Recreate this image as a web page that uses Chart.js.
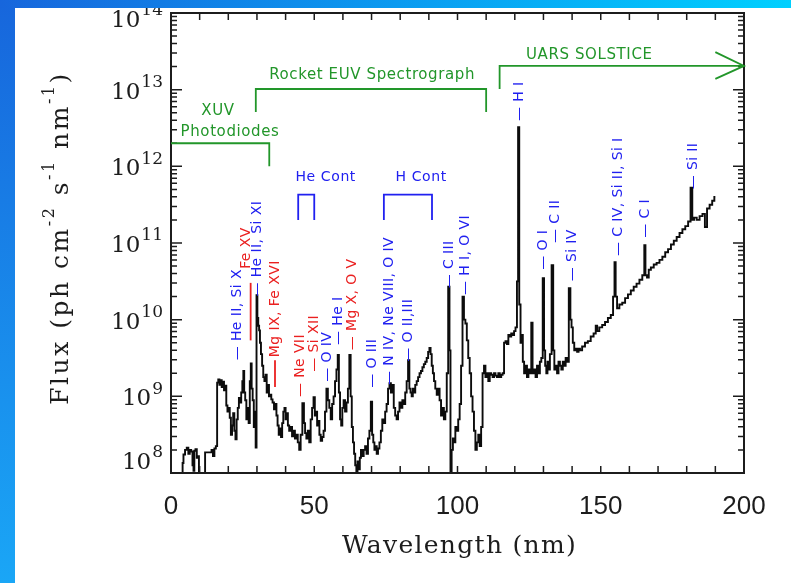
<!DOCTYPE html>
<html>
<head>
<meta charset="utf-8">
<script src="https://cdn.jsdelivr.net/npm/chart.js@4.4.0/dist/chart.umd.min.js"></script>
<style>
  html, body { margin: 0; padding: 0; }
  body { width: 791px; height: 583px; overflow: hidden; position: relative;
         background: linear-gradient(180deg, #1766dc 0%, #1aa6f6 100%); }
  #sheet { position: absolute; left: 15px; top: 0; right: 0; bottom: 0; background: #fff; }
  #chart { position: absolute; left: 0; top: 0; z-index: 1; }
  #topband { position: absolute; left: 0; top: 0; width: 791px; height: 8px; z-index: 2;
             background: linear-gradient(90deg, #1766dc 0%, #0b9af0 50%, #00d0ff 100%); }
</style>
</head>
<body>
<div id="sheet"></div>
<canvas id="chart" width="791" height="583"></canvas>
<div id="topband"></div>
<script>
// solar spectrum (nm, ph cm-2 s-1 nm-1)
const wavelength = [
  4.0, 4.1, 4.6, 5.2, 5.8, 6.3, 6.8, 7.3, 7.7, 8.0, 8.3, 8.8, 9.2, 9.6, 9.9,
  13.9, 14.4, 14.9, 15.4, 15.9, 16.3, 16.7, 17.1, 17.5, 17.9, 18.3, 18.7, 19.1, 19.5, 19.9,
  20.3, 20.7, 21.1, 21.5, 21.9, 22.3, 22.7, 23.1, 23.5, 23.9, 24.3, 24.7, 25.1, 25.4, 25.7,
  26.1, 26.5, 26.9, 27.3, 27.7, 28.0, 28.3, 28.7, 29.1, 29.4, 29.7, 30.0, 30.3, 30.6, 30.9,
  31.2, 31.6, 32.0, 32.4, 32.8, 33.2, 33.6, 34.0, 34.4, 34.8, 35.2, 35.7, 36.2, 36.6, 37.0,
  37.4, 37.8, 38.2, 38.6, 39.0, 39.4, 39.8, 40.2, 40.6, 41.0, 41.5, 42.0, 42.5, 43.0, 43.5,
  44.0, 44.5, 45.0, 45.5, 46.2, 46.6, 47.0, 47.5, 48.0, 48.5, 49.0, 49.5, 50.0, 50.4, 50.8,
  51.2, 51.6, 52.0, 52.5, 53.0, 53.5, 54.0, 54.5, 55.0, 55.5, 56.0, 56.5, 57.0, 57.5, 58.0,
  58.4, 58.8, 59.2, 59.6, 60.0, 60.5, 61.0, 61.5, 62.0, 62.5, 62.9, 63.3, 63.7, 64.1, 64.5,
  64.9, 65.3, 65.7, 66.1, 66.5, 67.0, 67.5, 68.0, 68.5, 69.0, 69.5, 70.0, 70.4, 70.8, 71.2,
  71.6, 72.0, 72.5, 73.0, 73.5, 74.0, 74.5, 75.0, 75.5, 76.0, 76.5, 77.0, 77.5, 78.0, 78.5,
  79.0, 79.5, 80.0, 80.5, 81.0, 81.5, 82.0, 82.5, 83.0, 83.4, 83.8, 84.2, 84.6, 85.0, 85.5,
  86.0, 86.5, 87.0, 87.5, 88.0, 88.5, 89.0, 89.5, 90.0, 90.4, 90.8, 91.2, 91.6, 92.0, 92.5,
  93.0, 93.5, 94.0, 94.5, 95.0, 95.5, 96.0, 96.5, 97.0, 97.4, 97.7, 98.2, 98.6, 99.0, 99.5,
  100.0, 100.5, 101.0, 101.5, 102.0, 102.5, 103.0, 103.5, 104.0, 104.5, 105.0, 105.5, 106.0, 106.5, 107.0,
  107.5, 108.0, 108.5, 109.0, 109.5, 110.0, 110.5, 111.0, 111.5, 112.0, 112.5, 113.0, 113.5, 114.0, 114.5,
  115.0, 115.5, 116.0, 116.5, 117.0, 117.5, 118.0, 118.5, 119.0, 119.5, 120.0, 120.5, 121.0, 121.3, 121.8,
  122.2, 122.6, 123.0, 123.5, 124.0, 124.5, 125.0, 125.5, 126.0, 126.4, 127.0, 127.5, 128.0, 128.5, 129.0,
  129.5, 130.0, 130.4, 130.8, 131.2, 131.6, 132.0, 132.5, 133.2, 133.6, 134.0, 134.5, 135.0, 135.5, 136.0,
  136.5, 137.0, 137.5, 138.0, 138.5, 139.2, 139.6, 140.0, 140.5, 141.0, 141.5, 142.0, 142.5, 143.0, 144.0,
  145.0, 146.0, 147.0, 148.0, 148.5, 149.0, 150.0, 151.0, 152.0, 153.0, 154.0, 154.6, 155.0, 155.4, 156.0,
  157.0, 158.0, 159.0, 160.0, 161.0, 162.0, 163.0, 164.0, 165.0, 165.4, 165.8, 166.5, 167.0, 168.0, 169.0,
  170.0, 171.0, 172.0, 173.0, 174.0, 175.0, 176.0, 177.0, 178.0, 179.0, 180.0, 181.0, 181.7, 182.2, 183.0,
  184.0, 185.0, 186.0, 186.7, 187.5, 188.5, 189.3, 190.0
];
const flux = [
  3.2e7, 1.35e8, 1.74e8, 2.0e8, 2.14e8, 1.78e8, 2.0e8, 1.91e8, 1.26e8, 1.07e8, 1.95e8, 2.04e8, 1.58e8, 1.66e8, 3.2e7,
  1.86e8, 2.0e8, 1.66e8, 2.09e8, 2.24e8, 1.51e9, 1.66e9, 1.41e9, 1.62e9, 1.32e9, 1.55e9, 1.2e9, 1.38e9, 7.59e8, 6.31e8,
  7.08e8, 5.25e8, 3.16e8, 4.17e8, 6.03e8, 3.55e8, 2.75e8, 5.01e8, 7.08e8, 9.55e8, 8.32e8, 1.12e9, 1.58e9, 2.14e9, 1.12e9,
  8.91e8, 5.01e8, 7.08e8, 4.47e8, 1.58e9, 2.69e9, 1.26e9, 8.91e8, 3.98e8, 6.31e8, 2.14e8, 2.09e10, 1.05e10, 8.32e9, 7.24e9,
  5.01e9, 3.55e9, 2.51e9, 1.78e9, 1.58e9, 1.91e9, 1.12e9, 1.41e9, 1.0e9, 1.05e9, 9.12e8, 8.32e8, 6.76e8, 7.94e8, 5.62e8,
  4.17e8, 3.16e8, 3.8e8, 2.95e8, 4.47e8, 6.31e8, 7.08e8, 5.01e8, 6.03e8, 4.17e8, 3.55e8, 3.98e8, 3.02e8, 3.55e8, 2.82e8,
  3.16e8, 2.51e8, 2.0e8, 3.16e8, 8.13e8, 4.47e8, 3.31e8, 2.82e8, 3.55e8, 2.51e8, 5.01e8, 7.08e8, 9.77e8, 5.62e8, 6.31e8,
  4.17e8, 4.79e8, 3.16e8, 2.63e8, 2.95e8, 3.55e8, 6.31e8, 1.26e9, 8.91e8, 7.08e8, 5.01e8, 7.94e8, 1.0e9, 1.58e9, 2.24e9,
  3.47e9, 1.12e9, 5.01e8, 4.17e8, 7.08e8, 8.91e8, 6.31e8, 8.32e8, 1.26e9, 3.47e9, 1.0e9, 3.98e8, 2.51e8, 1.78e8, 1.26e8,
  8.9e7, 1.41e8, 1.12e8, 1.58e8, 2.0e8, 1.66e8, 2.0e8, 2.24e8, 1.78e8, 2.82e8, 3.55e8, 8.51e8, 3.16e8, 2.51e8, 2.0e8,
  2.24e8, 1.78e8, 2.09e8, 2.51e8, 3.55e8, 5.01e8, 4.47e8, 6.31e8, 7.94e8, 1.26e9, 1.48e9, 1.12e9, 1.41e9, 7.08e8, 5.62e8,
  5.01e8, 6.31e8, 8.32e8, 7.08e8, 8.91e8, 7.94e8, 1.12e9, 1.58e9, 2.95e9, 1.26e9, 1.12e9, 1.0e9, 1.26e9, 1.12e9, 1.41e9,
  1.58e9, 1.78e9, 2.0e9, 2.14e9, 2.4e9, 2.63e9, 2.82e9, 3.16e9, 3.8e9, 4.27e9, 3.55e9, 2.51e9, 2.0e9, 1.58e9, 1.26e9,
  1.05e9, 1.26e9, 8.91e8, 5.62e8, 7.08e8, 5.01e8, 6.31e8, 2.0e9, 2.69e10, 3.98e9, 7.9e7, 2.0e8, 2.82e8, 2.51e8, 3.98e8,
  3.55e8, 5.01e8, 7.94e8, 2.51e9, 2.0e10, 1.0e10, 8.91e9, 5.37e9, 3.16e9, 2.0e9, 1.0e9, 6.31e8, 3.55e8, 2.0e8, 2.51e8,
  3.16e8, 2.24e8, 3.98e8, 2.0e9, 2.51e9, 1.78e9, 2.0e9, 1.58e9, 2.0e9, 1.91e9, 1.78e9, 2.0e9, 1.86e9, 1.78e9, 2.0e9,
  1.78e9, 1.91e9, 2.0e9, 5.01e9, 5.25e9, 4.79e9, 6.31e9, 6.03e9, 6.61e9, 6.31e9, 7.08e9, 7.94e9, 3.16e10, 3.24e12, 1.58e10,
  5.01e9, 6.31e9, 2.82e9, 2.0e9, 2.51e9, 1.78e9, 2.24e9, 2.0e9, 9.12e9, 2.0e9, 2.24e9, 1.78e9, 2.51e9, 2.0e9, 2.82e9,
  3.16e9, 3.47e10, 3.98e9, 2.51e9, 2.0e9, 2.82e9, 2.24e9, 3.55e9, 5.13e10, 3.98e9, 2.24e9, 2.51e9, 2.0e9, 2.82e9, 2.51e9,
  2.24e9, 2.82e9, 2.51e9, 3.16e9, 2.82e9, 2.57e10, 1.0e10, 7.94e9, 5.01e9, 3.98e9, 4.17e9, 3.8e9, 4.17e9, 3.98e9, 4.47e9,
  5.01e9, 5.25e9, 6.03e9, 6.61e9, 8.32e9, 7.08e9, 7.94e9, 8.51e9, 9.33e9, 1.05e10, 1.15e10, 2.0e10, 5.62e10, 2.0e10, 1.41e10,
  1.58e10, 1.66e10, 1.91e10, 2.14e10, 2.4e10, 2.69e10, 2.95e10, 3.31e10, 3.8e10, 9.33e10, 3.8e10, 3.55e10, 4.47e10, 4.79e10, 5.25e10,
  5.5e10, 6.03e10, 6.61e10, 7.59e10, 8.32e10, 9.55e10, 1.07e11, 1.2e11, 1.35e11, 1.51e11, 1.66e11, 1.91e11, 5.25e11, 2.0e11, 2.14e11,
  2.0e11, 2.24e11, 2.4e11, 1.62e11, 2.82e11, 3.16e11, 3.55e11, 3.98e11
];

const xTicks = [0, 10, 20, 30, 40, 50, 60, 70, 80, 90, 100, 110, 120, 130, 140, 150, 160, 170, 180, 190, 200];
const xLabels = [0, 50, 100, 150, 200];
const yExponents = [8, 9, 10, 11, 12, 13, 14];

// emission line identifications: text, wavelength, flux where the label starts
const lineText = ['— He II, Si X', '— He II, Si XI', 'Fe XV', 'Mg IX, Fe XVI', '— Ne VII', '— Si XII', '— O IV',
  '— He I', '— Mg X, O V', '— O III', '— N IV, Ne VIII, O IV', '— O II,III', '— C III', '— H I, O VI',
  '— H I', '— O I', '— C II', '— Si IV', '— C IV, Si II, Si I', '— C I', '— Si II'];
const lineWave = [23.0, 30.0, 26.3, 36.3, 45.0, 49.9, 54.5, 58.3, 63.2, 70.2, 76.1, 82.7, 97.0, 102.6,
  121.5, 129.8, 134.0, 140.0, 156.0, 165.4, 182.2];
const lineFlux = [2.95e9, 2.0e10, 4.6e10, 3.24e9, 9.77e8, 2.09e9, 1.55e9, 4.68e9, 3.98e9, 1.29e9, 1.41e9, 2.82e9,
  2.57e10, 2.09e10, 3.89e12, 4.47e10, 1.0e11, 3.16e10, 6.76e10, 1.17e11, 5.01e11];
const lineKind = ['b', 'b', 'r', 'r', 'r', 'r', 'b', 'b', 'r', 'b', 'b', 'b', 'b', 'b', 'b', 'b', 'b', 'b', 'b', 'b', 'b'];

// long leader strokes under Fe XV and Mg IX
const leaderWave = [27.8, 36.3];
const leaderFrom = [5.37e9, 1.32e9];
const leaderTo = [3.02e10, 2.95e9];

// continua brackets
const contText = ['He Cont', 'H Cont'];
const contTextWave = [54.0, 87.3];
const contFrom = [44.4, 74.3];
const contTo = [50.0, 91.1];
const contTop = 4.27e11, contFoot = 2.0e11, contTextFlux = 7.08e11;

// instrument ranges
const instXuv = [[0, 2.0e12], [34.3, 2.0e12], [34.3, 1.0e12]];
const instRocket = [[29.6, 5.13e12], [29.6, 1.02e13], [110.0, 1.02e13], [110.0, 5.13e12]];
const instUars = [[114.7, 1.02e13], [114.7, 2.04e13], [200, 2.04e13]];
const instArrow = [[190, 3.09e13], [200, 2.04e13], [190, 1.38e13]];
const instText = ['XUV', 'Photodiodes', 'Rocket EUV Spectrograph', 'UARS SOLSTICE'];
const instTextWave = [16.4, 20.6, 70.2, 146.0];
const instTextFlux = [5.25e12, 2.82e12, 1.55e13, 2.82e13];

const BLUE = '#2020f0', RED = '#ea2020', GREEN = '#22962a', INK = '#1c1c1c';

const overlay = {
  id: 'overlay',
  afterDraw(chart) {
    const { ctx, chartArea: a, scales: { x, y } } = chart;
    const px = v => x.getPixelForValue(v);
    const py = v => y.getPixelForValue(v);
    ctx.save();

    // frame and inward ticks
    ctx.strokeStyle = INK;
    ctx.lineWidth = 2;
    ctx.strokeRect(a.left, a.top, a.right - a.left, a.bottom - a.top);
    ctx.lineWidth = 1.5;
    ctx.beginPath();
    xTicks.forEach(v => {
      const X = px(v);
      ctx.moveTo(X, a.bottom); ctx.lineTo(X, a.bottom - 7);
      ctx.moveTo(X, a.top); ctx.lineTo(X, a.top + 7);
    });
    yExponents.forEach(e => {
      for (let m = 1; m < 10; m++) {
        if (e === 14 && m > 1) break;
        const Y = py(m * Math.pow(10, e));
        const len = m === 1 ? 11 : 6;
        ctx.moveTo(a.left, Y); ctx.lineTo(a.left + len, Y);
        ctx.moveTo(a.right, Y); ctx.lineTo(a.right - len, Y);
      }
    });
    ctx.stroke();

    // x tick labels
    ctx.fillStyle = INK;
    ctx.font = '26px "Liberation Sans"';
    ctx.textAlign = 'center';
    ctx.textBaseline = 'middle';
    xLabels.forEach(v => ctx.fillText(String(v), px(v), a.bottom + 34));

    // y tick labels 10^n
    yExponents.forEach((e, i) => {
      let Y = py(Math.pow(10, e)) + 3;
      if (i === 0) Y -= 13;
      if (e === 14) Y += 5;
      ctx.font = '17px "DejaVu Serif"';
      const ew = ctx.measureText(String(e)).width;
      ctx.textAlign = 'left';
      ctx.fillText(String(e), 163 - ew, Y - 10);
      ctx.font = '23px "DejaVu Serif"';
      ctx.textAlign = 'right';
      ctx.fillText('10', 162 - ew, Y);
    });

    // axis titles
    ctx.font = '25px "DejaVu Serif"';
    ctx.textAlign = 'center';
    ctx.letterSpacing = '1.3px';
    ctx.fillText('Wavelength (nm)', (a.left + a.right) / 2 + 2, 546);

    const parts = [['Flux (ph cm', 0], ['-2', 1], [' s', 0], ['-1', 1], [' nm', 0], ['-1', 1], [')', 0]];
    const fontOf = sup => sup ? '16px "DejaVu Serif"' : '25px "DejaVu Serif"';
    ctx.letterSpacing = '2.5px';
    let total = 0;
    parts.forEach(([t, s]) => { ctx.font = fontOf(s); total += ctx.measureText(t).width; });
    ctx.save();
    ctx.translate(61, 238);
    ctx.rotate(-Math.PI / 2);
    ctx.textAlign = 'left';
    let cx = -total / 2;
    parts.forEach(([t, s]) => {
      ctx.font = fontOf(s);
      ctx.fillText(t, cx, s ? -11 : 0);
      cx += ctx.measureText(t).width;
    });
    ctx.restore();
    ctx.letterSpacing = '0px';

    // instrument ranges
    const poly = (pts, color) => {
      ctx.strokeStyle = color;
      ctx.lineWidth = 1.8;
      ctx.beginPath();
      pts.forEach(([w, f], k) => k ? ctx.lineTo(px(w), py(f)) : ctx.moveTo(px(w), py(f)));
      ctx.stroke();
    };
    [instXuv, instRocket, instUars, instArrow].forEach(p => poly(p, GREEN));
    ctx.fillStyle = GREEN;
    ctx.font = '15px "DejaVu Sans"';
    ctx.letterSpacing = '0.6px';
    ctx.textAlign = 'center';
    instText.forEach((t, i) => ctx.fillText(t, px(instTextWave[i]), py(instTextFlux[i])));

    // continua
    contText.forEach((t, i) => {
      poly([[contFrom[i], contFoot], [contFrom[i], contTop], [contTo[i], contTop], [contTo[i], contFoot]], BLUE);
      ctx.fillStyle = BLUE;
      ctx.font = '14px "DejaVu Sans"';
      ctx.textAlign = 'center';
      ctx.fillText(t, px(contTextWave[i]), py(contTextFlux));
    });

    // line identifications
    leaderWave.forEach((w, i) => poly([[w, leaderFrom[i]], [w, leaderTo[i]]], RED));
    ctx.font = '14px "DejaVu Sans"';
    ctx.letterSpacing = '0.4px';
    ctx.textAlign = 'left';
    lineText.forEach((t, i) => {
      ctx.save();
      ctx.translate(px(lineWave[i]), py(lineFlux[i]));
      ctx.rotate(-Math.PI / 2);
      ctx.fillStyle = lineKind[i] === 'r' ? RED : BLUE;
      ctx.fillText(t, 0, 0);
      ctx.restore();
    });

    ctx.restore();
  }
};

new Chart(document.getElementById('chart'), {
  type: 'line',
  data: {
    datasets: [{
      data: wavelength.map((w, i) => ({ x: w, y: flux[i] })),
      borderColor: '#0c0c0c',
      borderWidth: 1.9,
      pointRadius: 0,
      stepped: 'middle',
      fill: false
    }]
  },
  options: {
    responsive: false,
    animation: false,
    devicePixelRatio: 1,
    layout: { padding: { left: 171, top: 13, right: 47, bottom: 110 } },
    plugins: { legend: { display: false }, tooltip: { enabled: false } },
    scales: {
      x: { type: 'linear', min: 0, max: 200, display: false },
      y: { type: 'logarithmic', min: 1e8, max: 1e14, display: false }
    }
  },
  plugins: [overlay]
});
</script>
</body>
</html>
